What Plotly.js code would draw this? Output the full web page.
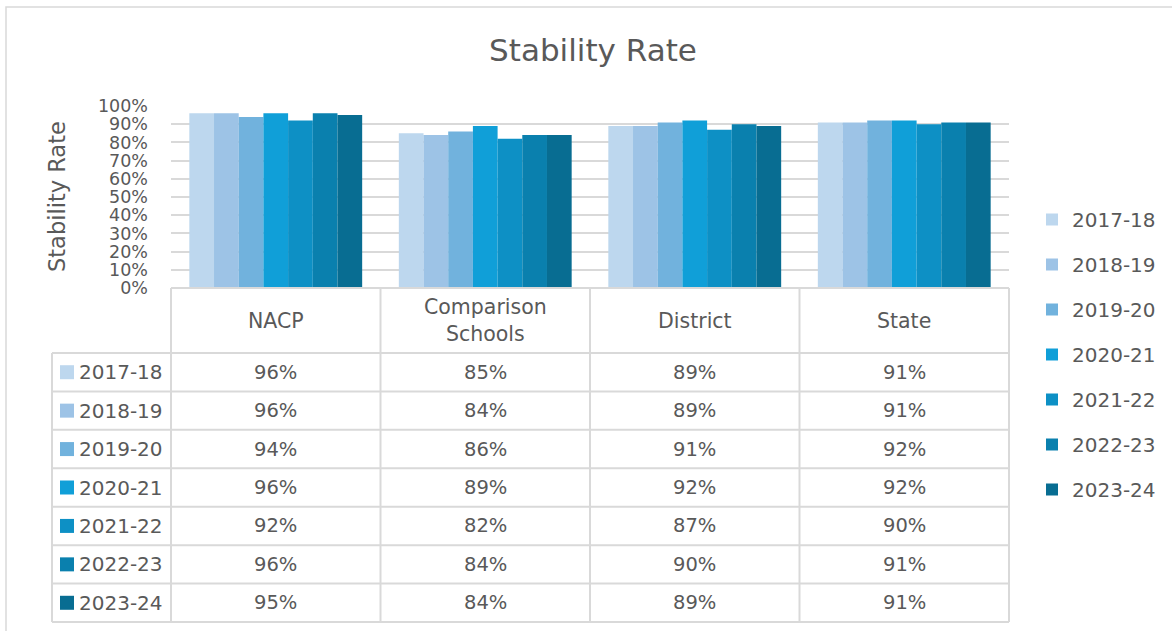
<!DOCTYPE html>
<html>
<head>
<meta charset="utf-8">
<script src="https://cdn.plot.ly/plotly-3.0.1.min.js"></script>
<style>html,body{margin:0;padding:0;background:#fff;}#chart{width:1172px;height:631px;}</style>
</head>
<body>
<div id="chart"></div>
<script>
// ---- data ----
const categories = ["NACP", "Comparison Schools", "District", "State"];
const categoryLabels = ["NACP", "Comparison<br>Schools", "District", "State"];
const years = ["2017-18", "2018-19", "2019-20", "2020-21", "2021-22", "2022-23", "2023-24"];
const v2017_18 = [96, 85, 89, 91];
const v2018_19 = [96, 84, 89, 91];
const v2019_20 = [94, 86, 91, 92];
const v2020_21 = [96, 89, 92, 92];
const v2021_22 = [92, 82, 87, 90];
const v2022_23 = [96, 84, 90, 91];
const v2023_24 = [95, 84, 89, 91];
const seriesValues = [v2017_18, v2018_19, v2019_20, v2020_21, v2021_22, v2022_23, v2023_24];
const colors = ["#BDD7EE", "#9DC3E6", "#71B2DD", "#109FD8", "#0D90C5", "#0A80AE", "#086D92"];

// ---- geometry (pixels) ----
const W = 1172, H = 631;
const px = x => x / W;
const py = y => 1 - y / H;
const plotL = 171, plotR = 1009, plotT = 106, plotB = 288;
const tableL = 52, headerB = 353;
const rowH = (622 - headerB) / years.length;
const colW = (plotR - plotL) / categories.length;
const textColor = "#595959";
const gridColor = "#D9D9D9";
const FONT = "'DejaVu Sans', Verdana, sans-serif";

const traces = years.map((yr, i) => ({
  type: "bar",
  name: yr,
  x: categories,
  y: seriesValues[i],
  marker: {color: colors[i], line: {width: 0}},
  legendgroup: "g" + i,
  hoverinfo: "x+y+name"
}));

const shapes = [];
const annotations = [];
const line = (x0, y0, x1, y1) => shapes.push({
  type: "line", xref: "paper", yref: "paper",
  x0: px(x0), y0: py(y0), x1: px(x1), y1: py(y1),
  line: {color: gridColor, width: 2}
});
// outer chart border
shapes.push({type: "rect", xref: "paper", yref: "paper", x0: px(6), y0: py(640), x1: px(1180), y1: py(7),
  line: {color: gridColor, width: 1.5}, fillcolor: "rgba(0,0,0,0)", layer: "below"});
// table grid
line(plotL, plotB, plotR, plotB);
for (let r = 0; r <= years.length; r++) {
  const y = headerB + r * rowH;
  line(tableL, y, plotR, y);
}
line(tableL, headerB, tableL, headerB + years.length * rowH);
for (let c = 0; c <= categories.length; c++) {
  const x = plotL + c * colW;
  line(x, plotB, x, headerB + years.length * rowH);
}
// header text
categoryLabels.forEach((lab, c) => annotations.push({
  xref: "paper", yref: "paper", x: px(plotL + (c + 0.5) * colW), y: py((plotB + headerB) / 2),
  text: lab, showarrow: false, xanchor: "center", yanchor: "middle",
  font: {family: FONT, size: 20.5, color: textColor}
}));
// row labels with keys and values
years.forEach((yr, r) => {
  const yc = headerB + (r + 0.5) * rowH;
  shapes.push({type: "rect", xref: "paper", yref: "paper",
    x0: px(60), x1: px(74), y0: py(yc + 7), y1: py(yc - 7),
    fillcolor: colors[r], line: {width: 0}});
  annotations.push({xref: "paper", yref: "paper", x: px(77), y: py(yc), text: yr,
    showarrow: false, xanchor: "left", yanchor: "middle",
    font: {family: FONT, size: 20, color: textColor}});
  seriesValues[r].forEach((v, c) => annotations.push({
    xref: "paper", yref: "paper", x: px(plotL + (c + 0.5) * colW), y: py(yc),
    text: v + "%", showarrow: false, xanchor: "center", yanchor: "middle",
    font: {family: FONT, size: 19.5, color: textColor}
  }));
});
// y-axis title
annotations.push({xref: "paper", yref: "paper", x: px(57), y: py(197), text: "Stability Rate",
  textangle: -90, showarrow: false, xanchor: "center", yanchor: "middle",
  font: {family: FONT, size: 22.5, color: textColor}});

const layout = {
  width: W, height: H,
  margin: {l: 0, r: 0, t: 0, b: 0},
  paper_bgcolor: "#fff", plot_bgcolor: "#fff",
  font: {family: FONT, color: textColor},
  title: {text: "Stability Rate", x: px(593), xanchor: "center", y: py(50), yanchor: "middle",
    font: {family: FONT, size: 31, color: textColor}},
  barmode: "group", bargap: 0.175, bargroupgap: 0,
  xaxis: {domain: [px(plotL), px(plotR)], showticklabels: false, showgrid: false,
    zeroline: false, showline: false, ticks: "", fixedrange: true},
  yaxis: {domain: [py(plotB), py(plotT)], range: [0, 100], dtick: 10, ticksuffix: "%",
    showgrid: true, gridcolor: gridColor, gridwidth: 2, zeroline: false, showline: false,
    ticks: "", ticklabelstandoff: 22, tickfont: {family: FONT, size: 17.5, color: textColor},
    fixedrange: true},
  legend: {x: px(1032), y: py(200), xanchor: "left", yanchor: "top",
    font: {family: FONT, size: 20, color: textColor}, tracegroupgap: 16,
    traceorder: "grouped", bgcolor: "rgba(0,0,0,0)", itemwidth: 30},
  showlegend: true,
  shapes: shapes,
  annotations: annotations
};

Plotly.newPlot("chart", traces, layout, {displayModeBar: false, staticPlot: true});
</script>
</body>
</html>
